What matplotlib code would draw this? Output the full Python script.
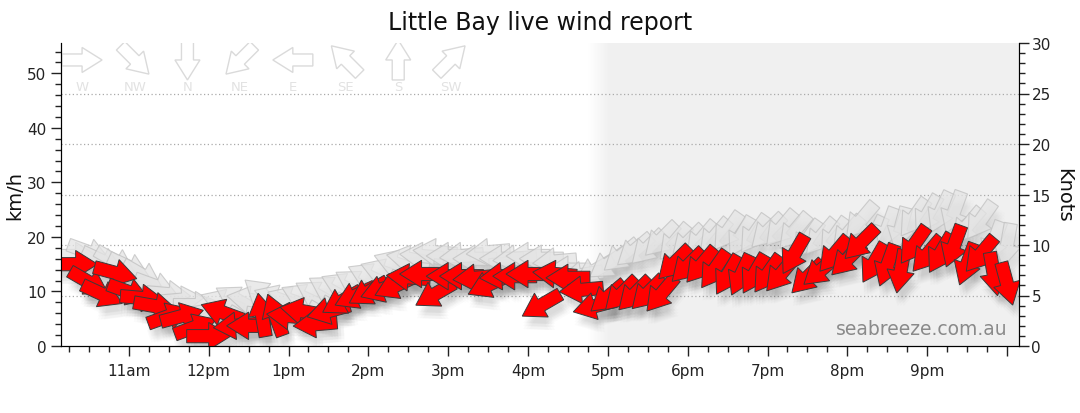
import numpy as np
import matplotlib
matplotlib.use('Agg')
import matplotlib.pyplot as plt
from matplotlib.patches import Polygon
from matplotlib.transforms import Affine2D, ScaledTranslation
from matplotlib.ticker import MultipleLocator

# observation times (local), 10 minute readings
times = ['10:20', '10:30', '10:40', '10:50', '11:00', '11:10', '11:20', '11:30', '11:40', '11:50',
         '12:00', '12:10', '12:20', '12:30', '12:40', '12:50', '13:00', '13:10', '13:20', '13:30',
         '13:40', '13:50', '14:00', '14:10', '14:20', '14:30', '14:40', '14:50', '15:00', '15:10',
         '15:20', '15:30', '15:40', '15:50', '16:00', '16:10', '16:20', '16:30', '16:40', '16:50',
         '17:00', '17:10', '17:20', '17:30', '17:40', '17:50', '18:00', '18:10', '18:20', '18:30',
         '18:40', '18:50', '19:00', '19:10', '19:20', '19:30', '19:40', '19:50', '20:00', '20:10',
         '20:20', '20:30', '20:40', '20:50', '21:00', '21:10', '21:20', '21:30', '21:40', '21:50',
         '22:00']

# average wind, km/h and direction it comes from (deg)
wind_kmh = [15.0, 11.7, 9.5, 13.4, 9.9, 8.8, 7.3, 5.5, 5.5, 3.5,
            1.8, 6.2, 3.7, 3.7, 5.7, 5.7, 5.5, 6.4, 4.0, 6.4,
            8.2, 9.2, 9.9, 10.4, 11.0, 12.6, 13.2, 9.5, 12.8, 12.8,
            12.5, 11.2, 12.8, 12.8, 13.2, 7.5, 13.2, 12.5, 10.3, 7.3,
            9.0, 9.5, 9.5, 9.7, 9.5, 15.2, 14.7, 14.8, 14.0, 13.0,
            13.0, 13.2, 13.2, 13.2, 16.8, 12.6, 13.9, 16.8, 15.9, 18.9,
            15.2, 14.8, 13.7, 18.5, 16.8, 17.0, 18.3, 15.0, 16.8, 13.2,
            11.4]
wind_dir = [270, 300, 295, 285, 290, 275, 280, 250, 255, 250,
            270, 110, 85, 90, 170, 160, 95, 100, 85, 75,
            60, 65, 60, 70, 65, 95, 90, 60, 90, 90,
            85, 65, 85, 90, 90, 60, 95, 90, 85, 75,
            50, 45, 45, 45, 40, 45, 45, 40, 35, 30,
            25, 30, 35, 40, 30, 45, 50, 40, 45, 45,
            30, 20, 10, 35, 40, 30, 20, 20, 40, 350,
            345]

# gusts, km/h and direction (deg)
gust_kmh = [16.5, 17.2, 15.6, 15.5, 14.5, 13.0, 11.0, 9.5, 8.5, 7.5,
            6.5, 8.0, 8.6, 8.5, 9.5, 8.8, 8.5, 9.0, 9.5, 10.4,
            11.0, 11.5, 12.8, 13.6, 15.2, 16.0, 16.5, 17.2, 16.5, 16.5,
            16.0, 17.2, 16.0, 16.0, 16.5, 16.0, 15.5, 14.0, 13.0, 13.8,
            15.0, 16.5, 17.5, 18.0, 19.5, 19.0, 19.0, 19.5, 20.0, 21.0,
            20.0, 20.5, 21.0, 21.5, 21.0, 19.5, 20.0, 20.0, 20.5, 23.0,
            20.0, 21.5, 21.5, 23.5, 24.0, 24.5, 24.5, 22.0, 23.0, 19.0,
            18.5]
gust_dir = [270, 290, 295, 300, 295, 300, 290, 275, 265, 270,
            260, 110, 120, 100, 130, 110, 110, 115, 120, 120,
            115, 120, 115, 110, 110, 100, 95, 95, 90, 85,
            90, 85, 90, 85, 90, 90, 85, 90, 80, 60,
            55, 50, 50, 45, 45, 40, 45, 40, 40, 35,
            30, 35, 45, 40, 40, 35, 40, 35, 40, 40,
            25, 20, 15, 35, 30, 25, 20, 40, 35, 20,
            10]

compass_names = ['W', 'NW', 'N', 'NE', 'E', 'SE', 'S', 'SW']
compass_dirs = [270, 315, 0, 45, 90, 135, 180, 225]

hour_ticks = [11, 12, 13, 14, 15, 16, 17, 18, 19, 20, 21, 22]
hour_labels = ['11am', '12pm', '1pm', '2pm', '3pm', '4pm', '5pm', '6pm', '7pm', '8pm', '9pm', '']
knot_grid = [5, 10, 15, 20, 25]
dark_from = 16.8  # shaded part of the day starts here (hours)

KMH_PER_KT = 1.852


def to_hours(s):
    h, m = s.split(':')
    return int(h) + int(m) / 60


def arrow_shape(length):
    # outline in pixels, pointing to +x, centred on the reading
    s = length / 40.0
    return np.array([[-20, -6], [0, -6], [0, -12.5], [20, 0], [0, 12.5], [0, 6], [-20, 6]]) * s


DATA_ARROW = arrow_shape(44)
KEY_ARROW = arrow_shape(40)


def draw_arrow(ax, shape, x, y, deg_from, base, dx=0, dy=0, **kw):
    # wind blows towards deg_from + 180, screen y is up
    a = np.deg2rad(deg_from)
    ang = np.degrees(np.arctan2(-np.cos(a), -np.sin(a)))
    tr = Affine2D().rotate_deg(ang).translate(dx, dy) + ScaledTranslation(x, y, base)
    ax.add_patch(Polygon(shape, closed=True, transform=tr, **kw))


fig = plt.figure(figsize=(10.8, 4.14), dpi=100)
ax = fig.add_axes([61 / 1080, 67 / 414, 958 / 1080, 303 / 414])
ymax = 30 * KMH_PER_KT
ax.set_xlim(10.15, 22.15)
ax.set_ylim(0, ymax)

# shaded evening part with a soft edge
grad = np.linspace(0, 1, 50)[None, :]
cm = matplotlib.colors.LinearSegmentedColormap.from_list('sh', ['#ffffff', '#f0f0f0'])
ax.imshow(grad, extent=[dark_from - 0.05, dark_from + 0.22, 0, ymax], aspect='auto', cmap=cm, zorder=0)
ax.axvspan(dark_from + 0.22, 22.15, color='#f0f0f0', lw=0, zorder=0)

for k in knot_grid:
    ax.axhline(k * KMH_PER_KT, color='#aaaaaa', lw=0.9, ls=(0, (1, 2)), zorder=1)

tx = [to_hours(t) for t in times]

# soft shadows, offset down and right
offs = [(ox, oy) for ox in (-3, 0, 3) for oy in (-3, 0, 3)]
for x, v, d in zip(tx, gust_kmh, gust_dir):
    for ox, oy in offs:
        draw_arrow(ax, DATA_ARROW, x, v, d, ax.transData, 4 + ox, -10 + oy,
                   fc='k', ec='none', alpha=0.006, zorder=2)
for x, v, d in zip(tx, wind_kmh, wind_dir):
    for ox, oy in offs:
        draw_arrow(ax, DATA_ARROW, x, v, d, ax.transData, 4 + ox, -10 + oy,
                   fc='k', ec='none', alpha=0.016, zorder=2)

# gust arrows
for x, v, d in zip(tx, gust_kmh, gust_dir):
    draw_arrow(ax, DATA_ARROW, x, v, d, ax.transData, fc='#e4e4e4', ec='#c0c0c0', lw=0.8, alpha=0.75, zorder=3)

# average wind arrows
for x, v, d in zip(tx, wind_kmh, wind_dir):
    draw_arrow(ax, DATA_ARROW, x, v, d, ax.transData, fc='#ff0000', ec='#3a3a3a', lw=0.7, zorder=4)

# compass key along the top
for i, (name, d) in enumerate(zip(compass_names, compass_dirs)):
    fx = 0.022 + i * 0.055
    draw_arrow(ax, KEY_ARROW, fx, 0.944, d, ax.transAxes, fc='white', ec='#dadada', lw=1.0, zorder=5)
    ax.text(fx, 0.858, name, transform=ax.transAxes, ha='center', va='center',
            fontsize=9.5, color='#e2e2e2', zorder=5)

ax.text(0.988, 0.025, 'seabreeze.com.au', transform=ax.transAxes, ha='right', va='bottom',
        fontsize=13.5, color='#8a8a8a', zorder=6)

# axes styling
ax.set_xticks(hour_ticks)
ax.set_xticklabels(hour_labels)
ax.xaxis.set_minor_locator(MultipleLocator(0.25))
ax.yaxis.set_major_locator(MultipleLocator(10))
ax.yaxis.set_minor_locator(MultipleLocator(2))
ax.tick_params(axis='both', which='major', labelsize=11, colors='#222222', length=7, width=1)
ax.tick_params(axis='both', which='minor', length=4, width=1, colors='#222222')
ax.tick_params(axis='x', pad=5)
ax.spines['top'].set_visible(False)
ax.set_ylabel('km/h', fontsize=14, color='#111111', rotation=90, va='center', ha='center',
              rotation_mode='default')
ax.yaxis.set_label_coords(-0.048, 0.5)

ax2 = ax.twinx()
ax2.set_ylim(0, 30)
ax2.yaxis.set_major_locator(MultipleLocator(5))
ax2.yaxis.set_minor_locator(MultipleLocator(1))
ax2.tick_params(axis='y', which='major', labelsize=11, colors='#222222', length=7, width=1, pad=2)
ax2.tick_params(axis='y', which='minor', length=4, width=1, colors='#222222')
ax2.spines['top'].set_visible(False)
ax2.set_ylabel('Knots', fontsize=14, rotation=270, color='#111111', va='center')
ax2.yaxis.set_label_coords(1.047, 0.5)

fig.suptitle('Little Bay live wind report', fontsize=17, y=0.945, va='center', color='#111111')

fig.savefig('out.png', dpi=100)
